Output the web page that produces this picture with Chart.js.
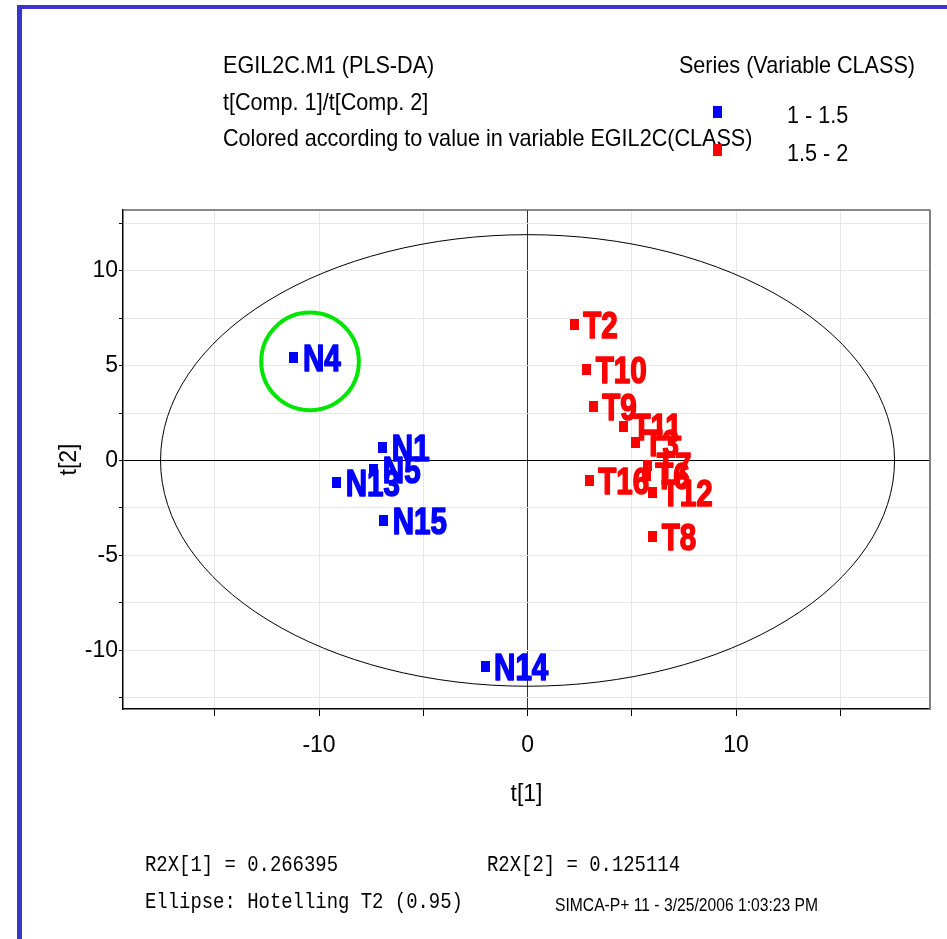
<!DOCTYPE html>
<html>
<head>
<meta charset="utf-8">
<script src="https://cdn.jsdelivr.net/npm/chart.js@4.4.1/dist/chart.umd.min.js"></script>
<style>
html, body { margin: 0; padding: 0; background: #fff; }
</style>
</head>
<body>
<canvas id="scoreChart" width="947" height="939"></canvas>
<script>
// PLS-DA scores, t[1] vs t[2]
const classNames = ['1 - 1.5', '1.5 - 2'];

const lowNames = ['N1', 'N4', 'N5', 'N13', 'N14', 'N15'];
const lowT1 = [-6.94, -11.2, -7.37, -9.15, -2.04, -6.9];
const lowT2 = [0.68, 5.4, -0.47, -1.18, -10.88, -3.18];

const highNames = ['T2', 'T3', 'T6', 'T7', 'T8', 'T9', 'T10', 'T11', 'T12', 'T16'];
const highT1 = [2.24, 5.17, 5.69, 5.77, 6.0, 3.15, 2.84, 4.6, 6.0, 2.96];
const highT2 = [7.16, 0.93, -0.77, -0.25, -4.02, 2.82, 4.79, 1.8, -1.7, -1.07];

const xTicks = [-15, -10, -5, 0, 5, 10, 15];
const xTickLabels = ['-10', '0', '10'];
const yTicks = [-12.5, -10, -7.5, -5, -2.5, 0, 2.5, 5, 7.5, 10, 12.5];
const yTickLabels = ['-10', '-5', '0', '5', '10'];

// Hotelling T2 (0.95) ellipse half axes
const ellipseT1 = 17.6;
const ellipseT2 = 11.9;
// green ring around N4
const ring = { x: -10.43, y: 5.22, r: 2.34 };

const BLUE = '#0000ff';
const RED = '#ff0000';
const SANS = '"Liberation Sans", Arial, sans-serif';

Chart.defaults.font.family = SANS;
Chart.defaults.color = '#000';

function markerImg(color) {
    const c = document.createElement('canvas');
    c.width = 9;
    c.height = 11;
    const g = c.getContext('2d');
    g.fillStyle = color;
    g.fillRect(0, 0, 9, 11);
    return c;
}

function narrowText(ctx, text, x, y, font, color, sx, align) {
    ctx.save();
    ctx.font = font;
    ctx.fillStyle = color;
    ctx.textAlign = align || 'left';
    ctx.textBaseline = 'middle';
    ctx.translate(x, y);
    ctx.scale(sx, 1);
    ctx.fillText(text, 0, 0);
    ctx.restore();
}

const toPoints = (xs, ys) => xs.map((v, i) => ({ x: v, y: ys[i] }));

const decorations = {
    id: 'decorations',
    beforeDatasetsDraw(chart) {
        const { ctx, chartArea: a, scales: { x, y } } = chart;
        ctx.save();
        ctx.beginPath();
        ctx.rect(a.left, a.top, a.right - a.left, a.bottom - a.top);
        ctx.clip();
        // ellipse
        const cx = x.getPixelForValue(0), cy = y.getPixelForValue(0);
        const rx = x.getPixelForValue(ellipseT1) - cx;
        const ry = cy - y.getPixelForValue(ellipseT2);
        ctx.beginPath();
        ctx.ellipse(cx, cy, rx, ry, 0, 0, Math.PI * 2);
        ctx.strokeStyle = '#000';
        ctx.lineWidth = 1;
        ctx.stroke();
        // green ring
        const gx = x.getPixelForValue(ring.x), gy = y.getPixelForValue(ring.y);
        const gr = x.getPixelForValue(ring.x + ring.r) - gx;
        ctx.beginPath();
        ctx.arc(gx, gy, gr, 0, Math.PI * 2);
        ctx.strokeStyle = '#00e600';
        ctx.lineWidth = 4;
        ctx.stroke();
        ctx.restore();
    },
    afterDatasetsDraw(chart) {
        const { ctx } = chart;
        const names = [lowNames, highNames];
        chart.data.datasets.forEach((ds, di) => {
            chart.getDatasetMeta(di).data.forEach((pt, i) => {
                ctx.save();
                ctx.font = 'bold 37px ' + SANS;
                ctx.fillStyle = ds.backgroundColor;
                ctx.strokeStyle = ds.backgroundColor;
                ctx.lineWidth = 1.6;
                ctx.lineJoin = 'round';
                ctx.textBaseline = 'alphabetic';
                ctx.translate(pt.x + 9, pt.y + 13.5);
                ctx.scale(0.8, 1);
                ctx.fillText(names[di][i], 0, 0);
                ctx.strokeText(names[di][i], 0, 0);
                ctx.restore();
            });
        });
    },
    afterDraw(chart) {
        const { ctx, chartArea: a } = chart;
        ctx.save();
        // plot frame top / right
        ctx.strokeStyle = '#606060';
        ctx.lineWidth = 1.5;
        ctx.beginPath();
        ctx.moveTo(a.left, a.top);
        ctx.lineTo(a.right, a.top);
        ctx.stroke();
        ctx.strokeStyle = '#808080';
        ctx.lineWidth = 2;
        ctx.beginPath();
        ctx.moveTo(a.right, a.top);
        ctx.lineTo(a.right, a.bottom);
        ctx.stroke();
        // page frame
        ctx.fillStyle = '#3a33cc';
        ctx.fillRect(17, 5, 5, 934);
        ctx.fillRect(17, 5, 930, 4);
        ctx.restore();

        const f = '24px ' + SANS;
        narrowText(ctx, 'EGIL2C.M1 (PLS-DA)', 223, 66, f, '#000', 0.9);
        narrowText(ctx, 't[Comp. 1]/t[Comp. 2]', 223, 103, f, '#000', 0.9);
        narrowText(ctx, 'Colored according to value in variable EGIL2C(CLASS)', 223, 139, f, '#000', 0.9);
        narrowText(ctx, 'Series (Variable CLASS)', 915, 66, f, '#000', 0.9, 'right');

        // legend
        ctx.fillStyle = BLUE;
        ctx.fillRect(713, 106, 9, 12);
        ctx.fillStyle = RED;
        ctx.fillRect(713, 144, 9, 12);
        narrowText(ctx, classNames[0], 787, 116, f, '#000', 0.9);
        narrowText(ctx, classNames[1], 787, 154, f, '#000', 0.9);

        // footer
        const mono = '22px "Liberation Mono", "DejaVu Sans Mono", monospace';
        narrowText(ctx, 'R2X[1] = 0.266395', 145, 865, mono, '#000', 0.86);
        narrowText(ctx, 'R2X[2] = 0.125114', 487, 865, mono, '#000', 0.86);
        narrowText(ctx, 'Ellipse: Hotelling T2 (0.95)', 145, 902, mono, '#000', 0.86);
        narrowText(ctx, 'SIMCA-P+ 11 - 3/25/2006 1:03:23 PM', 555, 906, '18px ' + SANS, '#000', 0.87);
    }
};

new Chart(document.getElementById('scoreChart'), {
    type: 'scatter',
    data: {
        datasets: [{
            label: classNames[0],
            data: toPoints(lowT1, lowT2),
            backgroundColor: BLUE,
            borderColor: BLUE,
            pointStyle: markerImg(BLUE)
        }, {
            label: classNames[1],
            data: toPoints(highT1, highT2),
            backgroundColor: RED,
            borderColor: RED,
            pointStyle: markerImg(RED)
        }]
    },
    options: {
        responsive: false,
        animation: false,
        devicePixelRatio: 1,
        layout: { padding: { top: 210, right: 17, left: 0, bottom: 130 } },
        plugins: {
            legend: { display: false },
            tooltip: { enabled: false }
        },
        scales: {
            x: {
                type: 'linear',
                min: -19.4,
                max: 19.3,
                afterBuildTicks: s => { s.ticks = xTicks.map(v => ({ value: v })); },
                afterFit: s => { s.height = 100; },
                ticks: {
                    autoSkip: false,
                    maxRotation: 0,
                    padding: 16,
                    font: { size: 23 },
                    callback: v => xTickLabels.includes(String(v)) ? String(v) : ''
                },
                grid: {
                    color: c => c.tick && c.tick.value === 0 ? '#333' : '#e6e6e6',
                    tickColor: '#000',
                    tickLength: 7
                },
                border: { color: '#000', width: 1.5 },
                title: {
                    display: true,
                    text: 't[1]',
                    font: { size: 23 },
                    padding: { top: 0, bottom: 1 }
                }
            },
            y: {
                type: 'linear',
                min: -13.1,
                max: 13.2,
                afterBuildTicks: s => { s.ticks = yTicks.map(v => ({ value: v })); },
                afterFit: s => { s.width = 123; },
                ticks: {
                    autoSkip: false,
                    padding: 1,
                    font: { size: 23 },
                    callback: v => yTickLabels.includes(String(v)) ? String(v) : ''
                },
                grid: {
                    color: c => c.tick && c.tick.value === 0 ? '#000' : '#e6e6e6',
                    tickColor: '#000',
                    tickLength: 4
                },
                border: { color: '#000', width: 1.5 },
                title: {
                    display: true,
                    text: 't[2]',
                    font: { size: 23 },
                    padding: { top: 56, bottom: 0 }
                }
            }
        }
    },
    plugins: [decorations]
});
</script>
</body>
</html>
